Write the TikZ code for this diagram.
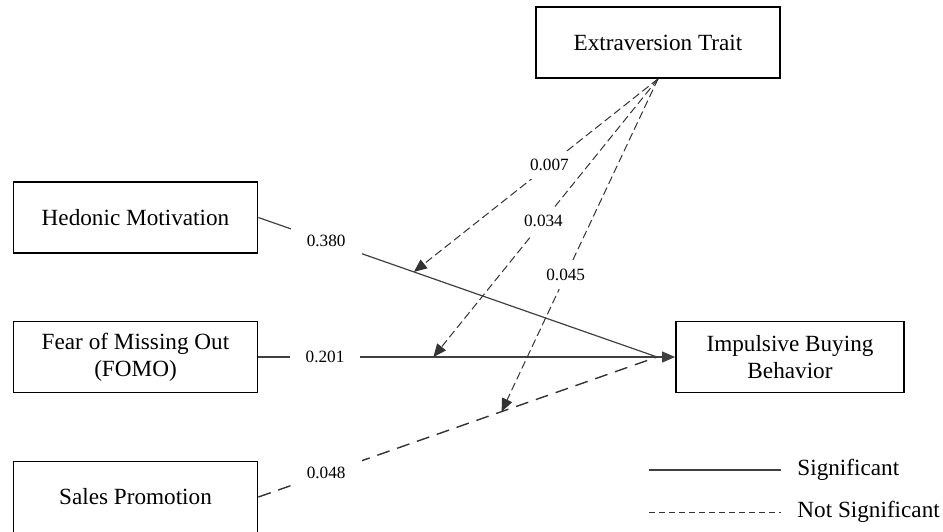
\documentclass[tikz,border=0pt]{standalone}
\usepackage{fontspec}
\setmainfont{Liberation Serif}
\usetikzlibrary{arrows.meta, positioning}

\begin{document}
\begin{tikzpicture}[x=0.5pt, y=-0.5pt, >={Triangle[length=6.5pt,width=5.5pt]},
  box/.style={draw, line width=0.9pt, minimum width=122pt, minimum height=35.5pt,
    align=center, font=\fontsize{11.6}{13.5}\selectfont},
  coef/.style={fill=white, text=black, inner xsep=8pt, inner ysep=4pt, font=\fontsize{8.6}{10}\selectfont},
  legend/.style={anchor=west, inner sep=0pt, font=\fontsize{11.6}{13.5}\selectfont},
  sig/.style={black!75, line width=0.6pt},
  nsig/.style={black!80, line width=0.7pt, dash pattern=on 6.5pt off 4pt},
  moder/.style={black!80, line width=0.5pt, dash pattern=on 4pt off 2pt, ->}]
  \useasboundingbox (0,0) rectangle (943,531);
  % constructs
  \node[box] (ext) at (658,42.5) {Extraversion Trait};
  \node[box] (hm) at (135.5,217.5) {Hedonic Motivation};
  \node[box] (fomo) at (135.5,357) {Fear of Missing Out\\(FOMO)};
  \node[box] (sp) at (135.5,497) {Sales Promotion};
  \node[box, minimum width=114pt] (imp) at (790,357) {Impulsive Buying\\Behavior};
  \coordinate[left=9pt of imp.west] (join);
  % direct effects
  \draw[sig] (hm.east) -- node[coef, pos=0.17] {0.380} coordinate[pos=0.39] (hmx) (join);
  \draw[sig, ->] (fomo.east) -- node[coef, pos=0.16] {0.201} coordinate[pos=0.42] (fomox) (imp.west);
  \draw[nsig] (sp.east) -- node[coef, pos=0.17] {0.048} coordinate[pos=0.61] (spx) (join);
  % moderation
  \draw[moder] (ext.south) -- node[coef, pos=0.445] {0.007} (hmx);
  \draw[moder] (ext.south) -- node[coef, pos=0.51] {0.034} (fomox);
  \draw[moder] (ext.south) -- node[coef, pos=0.59] {0.045} (spx);
  % legend
  \coordinate (s1) at (649,470);
  \coordinate (s2) at (781,470);
  \coordinate (n1) at (649,512);
  \coordinate (n2) at (781,512);
  \draw[sig] (s1) -- (s2);
  \draw[black!80, line width=0.5pt, dash pattern=on 3pt off 2pt] (n1) -- (n2);
  \node[legend, right=8pt of s2] (lsig) {Significant};
  \node[legend, right=8pt of n2] (lnsig) {Not Significant};
\end{tikzpicture}
\end{document}
